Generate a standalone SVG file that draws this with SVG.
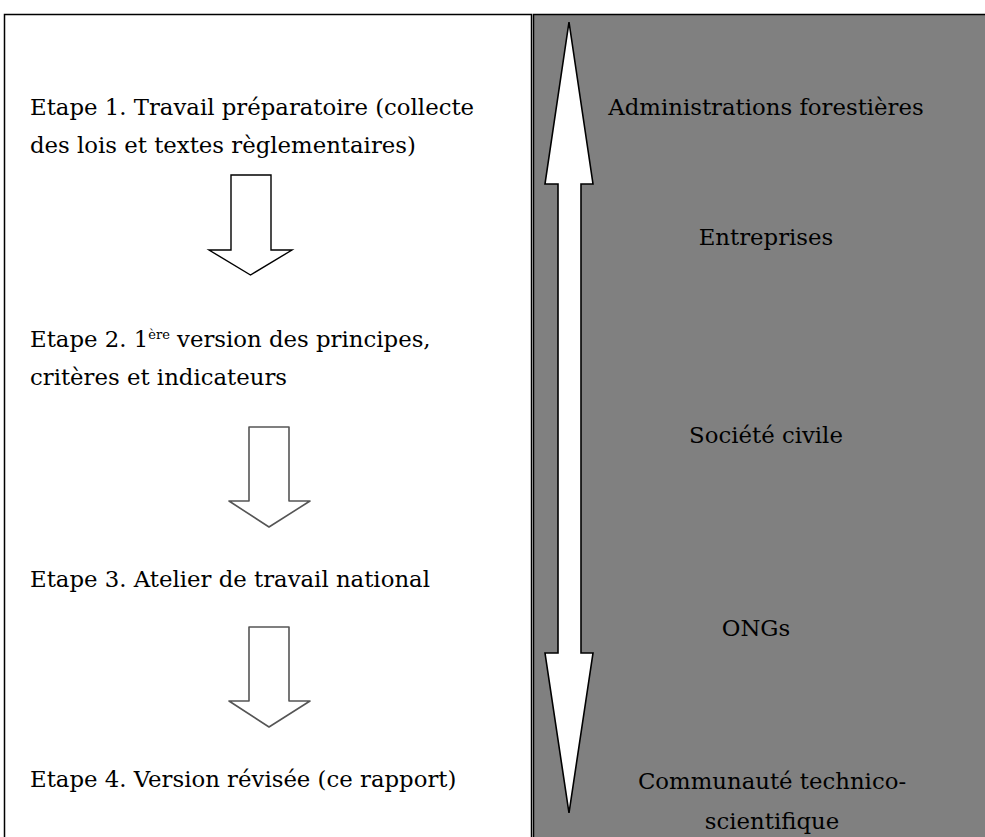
<svg xmlns="http://www.w3.org/2000/svg" width="985" height="837" viewBox="0 0 985 837">
<style>
  text { font-family: "DejaVu Serif", "Liberation Serif", serif; font-size: 22.8px; fill: #000; }
  .r { text-anchor: middle; }
  .panel { stroke: #000; stroke-width: 1.5; }
  .big { fill: #fff; stroke: #000; stroke-width: 1.6; stroke-linejoin: miter; }
  .down1 { fill: #fff; stroke: #000; stroke-width: 1.4; }
  .down2 { fill: #fff; stroke: #555; stroke-width: 1.6; stroke-linejoin: round; }
</style>
<rect width="985" height="837" fill="#fff"/>
<g id="left-panel">
  <rect class="panel" x="4.5" y="14.5" width="527" height="840" fill="#fff"/>
</g>
<g id="right-panel">
  <rect class="panel" x="533.5" y="14.5" width="470" height="840" fill="#808080"/>
</g>
<g id="connectors">
  <polygon class="big" points="569,22 593,184 581,184 581,653 593,653 569,813 545,653 558,653 558,184 545,184"/>
  <polygon class="down1" points="231,175 271,175 271,250 292,250 250.5,275 209,250 231,250"/>
  <polygon class="down2" points="249,427 289,427 289,501 310,501 269,527 229,501 249,501"/>
  <polygon class="down2" points="249,627 289,627 289,701 310,701 269,727 229,701 249,701"/>
</g>
<g id="step1">
  <text x="30" y="115">Etape 1. Travail préparatoire (collecte</text>
  <text x="30" y="153">des lois et textes règlementaires)</text>
</g>
<g id="step2">
  <text x="30" y="347">Etape 2. 1<tspan font-size="13" dy="-8">ère</tspan><tspan dy="8"> version des principes,</tspan></text>
  <text x="30" y="385">critères et indicateurs</text>
</g>
<g id="step3">
  <text x="30" y="587">Etape 3. Atelier de travail national</text>
</g>
<g id="step4">
  <text x="30" y="787">Etape 4. Version révisée (ce rapport)</text>
</g>
<g id="actor-admin"><text class="r" x="766" y="115">Administrations forestières</text></g>
<g id="actor-entreprises"><text class="r" x="766" y="245">Entreprises</text></g>
<g id="actor-societe"><text class="r" x="766" y="443">Société civile</text></g>
<g id="actor-ong"><text class="r" x="756" y="636">ONGs</text></g>
<g id="actor-communaute">
  <text class="r" x="772" y="789">Communauté technico-</text>
  <text class="r" x="772" y="829">scientifique</text>
</g>
</svg>
